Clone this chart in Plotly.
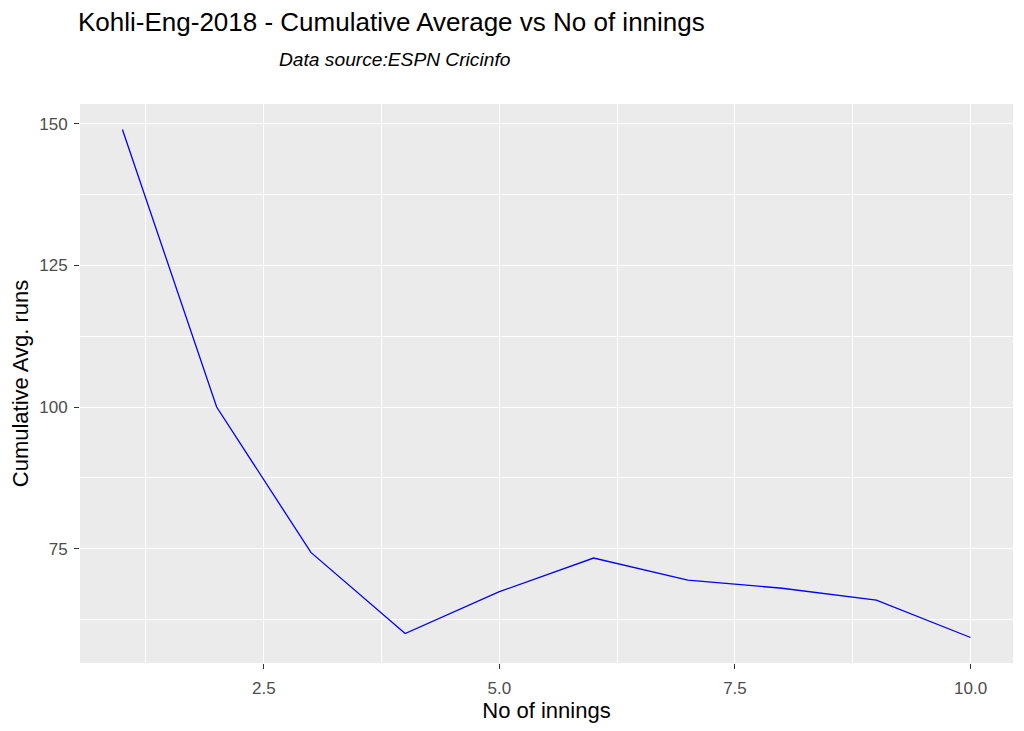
import plotly.graph_objects as go

innings = [1, 2, 3, 4, 5, 6, 7, 8, 9, 10]
cum_avg = [149.0, 100.0, 74.33, 60.0, 67.4, 73.33, 69.43, 68.0, 65.89, 59.3]

title_text = "Kohli-Eng-2018 - Cumulative Average vs No of innings"
subtitle_text = "Data source:ESPN Cricinfo"
x_title = "No of innings"
y_title = "Cumulative Avg. runs"

FONT = "Liberation Sans, Arial, sans-serif"

fig = go.Figure()
fig.add_trace(go.Scatter(x=innings, y=cum_avg, mode="lines",
                         line=dict(color="#0000FF", width=1.3), hoverinfo="x+y"))

fig.update_layout(
    width=1024, height=731,
    paper_bgcolor="white", plot_bgcolor="#EBEBEB",
    margin=dict(l=69, r=19, t=96, b=76),
    showlegend=False,
    font=dict(family=FONT, color="black"),
    title=dict(text=title_text, xref="container", yref="container",
               x=70/1024, xanchor="left", y=1-14/731, yanchor="middle",
               font=dict(size=26, color="black", family=FONT)),
    annotations=[dict(text="<i>" + subtitle_text + "</i>", xref="paper", yref="paper",
                      x=(275-77)/936, xanchor="left", y=1+(96-52)/559, yanchor="middle",
                      showarrow=False, font=dict(size=19.2, color="black", family=FONT))],
)

fig.update_xaxes(range=[0.55, 10.45], tick0=0, dtick=2.5, tickformat=".1f",
                 showgrid=True, gridcolor="white", gridwidth=1.4,
                 minor=dict(tick0=0, dtick=1.25, showgrid=True, gridcolor="white", gridwidth=0.6),
                 zeroline=False, showline=False,
                 ticks="outside", ticklen=5, tickwidth=1.2, tickcolor="#333333",
                 ticklabelstandoff=5,
                 tickfont=dict(size=17, color="#4D4D4D"),
                 title=dict(text=x_title, font=dict(size=22, color="black"), standoff=3))
fig.update_yaxes(range=[54.8, 153.5], tick0=0, dtick=25,
                 showgrid=True, gridcolor="white", gridwidth=1.4,
                 minor=dict(tick0=0, dtick=12.5, showgrid=True, gridcolor="white", gridwidth=0.6),
                 zeroline=False, showline=False,
                 ticks="outside", ticklen=5, tickwidth=1.2, tickcolor="#333333",
                 ticklabelstandoff=3,
                 tickfont=dict(size=17, color="#4D4D4D"),
                 title=dict(text=y_title, font=dict(size=22, color="black"), standoff=4))

fig.write_html("out.html")
